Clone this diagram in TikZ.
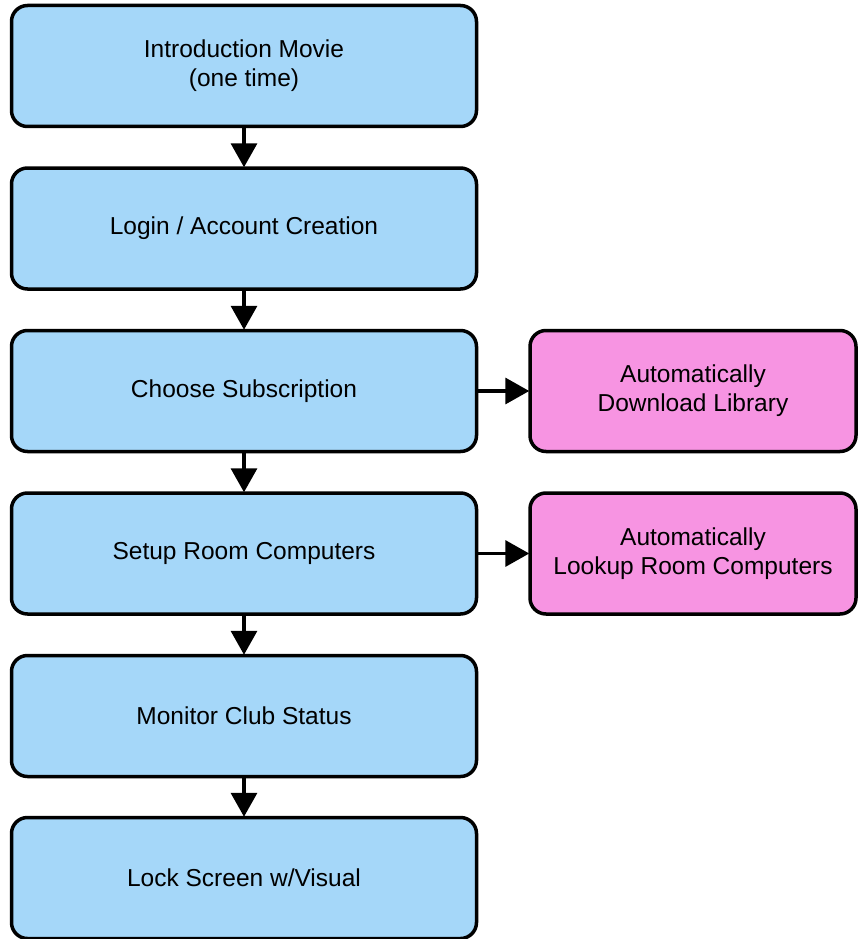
\documentclass[tikz,border=0pt]{standalone}
\usepackage{fontspec}
\setmainfont{Liberation Sans}
\usetikzlibrary{arrows.meta}
\definecolor{boxblue}{HTML}{A5D7F9}
\definecolor{boxpink}{HTML}{F794E2}
\begin{document}
\begin{tikzpicture}[x=1pt,y=1pt,
  stepbox/.style={draw=black, line width=3.5pt, rounded corners=16pt, fill=boxblue,
    minimum width=465pt, minimum height=121pt, align=center,
    font=\fontsize{24.5}{29}\selectfont, inner sep=0pt},
  sidebox/.style={stepbox, fill=boxpink, minimum width=326pt},
  conn/.style={line width=3.5pt, -{Triangle[length=24pt,width=26pt]}, shorten >=-1pt}
]
\useasboundingbox (0,0) rectangle (858,-939);
\node[stepbox] (a) at (244,-66) {Introduction Movie\\(one time)};
\node[stepbox] (b) at (244,-228.5) {Login / Account Creation};
\node[stepbox] (c) at (244,-391) {Choose Subscription};
\node[stepbox] (d) at (244,-553.5) {Setup Room Computers};
\node[stepbox] (e) at (244,-716) {Monitor Club Status};
\node[stepbox] (f) at (244,-878) {Lock Screen w/Visual};
\node[sidebox] (g) at (693,-391) {Automatically\\Download Library};
\node[sidebox] (h) at (693,-553.5) {Automatically\\Lookup Room Computers};
\draw[conn] (a) -- (b);
\draw[conn] (b) -- (c);
\draw[conn] (c) -- (d);
\draw[conn] (d) -- (e);
\draw[conn] (e) -- (f);
\draw[conn] (c) -- (g);
\draw[conn] (d) -- (h);
\end{tikzpicture}
\end{document}
